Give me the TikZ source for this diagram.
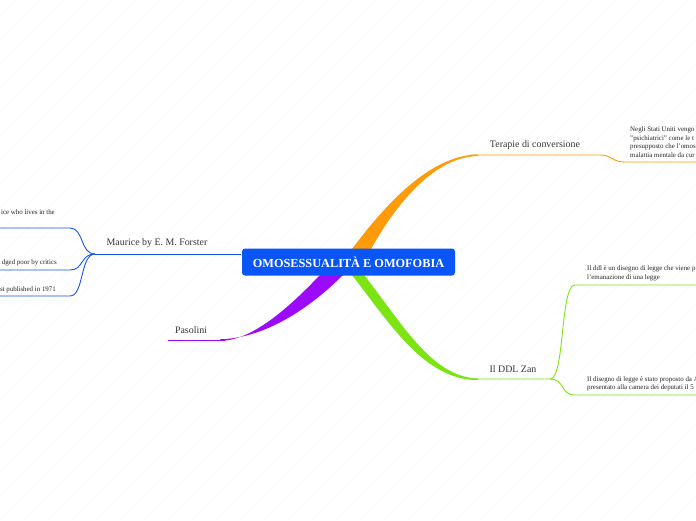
\documentclass[tikz,border=0pt]{standalone}
\usepackage{fontspec}
\setmainfont{Liberation Serif}
\definecolor{cOrange}{RGB}{255,155,10}
\definecolor{cGreen}{RGB}{125,228,20}
\definecolor{cPurple}{RGB}{155,10,250}
\definecolor{cBlue}{RGB}{20,85,240}
\definecolor{cRoot}{RGB}{10,85,245}
\definecolor{cText}{RGB}{55,55,55}
\begin{document}
\begin{tikzpicture}[x=1pt,y=-1pt,
  lbl/.style={font=\fontsize{9.9}{11}\selectfont, text=cText, inner sep=0pt},
  leaf/.style={font=\fontsize{6.9}{8.6}\selectfont, text=black!85, inner sep=0pt, align=left},
  conn/.style={line width=0.9pt}]
\useasboundingbox (0,0) rectangle (696,520);
\clip (0,0) rectangle (696,520);
\fill[white] (0,0) rectangle (696,520);
\foreach \i in {-44,...,58} \draw[black!4, line width=0.3pt] (\i*12,520) -- ++(520,-520);

% named points
\coordinate (oStart) at (470,155);
\coordinate (oEnd) at (600,155);
\coordinate (oLeaf) at (625,162);
\coordinate (gStart) at (470,379);
\coordinate (gJoin) at (550,379);
\coordinate (gLeafA) at (575,285);
\coordinate (gLeafB) at (575,395);
\coordinate (bStart) at (241,254);
\coordinate (bJoin) at (95,254);
\coordinate (bLeafA) at (70,228);
\coordinate (bLeafB) at (70,270);
\coordinate (bLeafC) at (70,296);
\coordinate (pStart) at (225,340);
\coordinate (pEnd) at (168,340);

% thick tapered branches
\fill[cOrange] (352,249) .. controls (385,205) and (430,155) .. (478,154.5)
  -- (478,156) .. controls (432,157) and (394,208) .. (371,249) -- cycle;
\fill[cGreen] (352,275) .. controls (390,324) and (425,380.5) .. (478,380)
  -- (478,378.5) .. controls (431,377.5) and (400,320) .. (364,275) -- cycle;
\fill[cPurple] (320,275) .. controls (296,300) and (255,341) .. (220,340.8)
  -- (220,339.3) .. controls (270,338) and (316,302) .. (343,275) -- cycle;

% orange
\node[lbl, anchor=base] (ter) at (535,147) {Terapie di conversione};
\draw[cOrange, conn] (oStart) -- (oEnd) .. controls (612,155) and (612,162) .. (oLeaf) -- (700,162);
\node[leaf, anchor=north west] (terLeaf) at (630,126.5) {Negli Stati Uniti vengo\\"psichiatrici" come le t\\presupposto che l'omose\\malattia mentale da cur};

% green
\node[lbl, anchor=base] (ddl) at (513,372) {Il DDL Zan};
\draw[cGreen, conn] (gStart) -- (gJoin) .. controls (565,379) and (560,285) .. (gLeafA) -- (700,285);
\draw[cGreen, conn] (gJoin) .. controls (565,379) and (560,395) .. (gLeafB) -- (700,395);
\node[leaf, anchor=north west] (ddlA) at (587,265.5) {Il ddl è un disegno di legge che viene p\\l'emanazione di una legge};
\node[leaf, anchor=north west] (ddlB) at (587,376) {Il disegno di legge è stato proposto da A\\presentato alla camera dei deputati il 5};

% blue
\node[lbl, anchor=base] (mau) at (157,245) {Maurice by E. M. Forster};
\draw[cBlue, conn] (bStart) -- (bJoin);
\draw[cBlue, conn] (bJoin) .. controls (80,254) and (84,228) .. (bLeafA) -- (-5,228);
\draw[cBlue, conn] (bJoin) .. controls (80,254) and (84,270) .. (bLeafB) -- (-5,270);
\draw[cBlue, conn] (bJoin) .. controls (80,254) and (84,296) .. (bLeafC) -- (-5,296);
\node[leaf, anchor=base east] (mauA) at (55,214) {ice who lives in the};
\node[leaf, anchor=base east] (mauB) at (57,264) {dged poor by critics};
\node[leaf, anchor=base east] (mauC) at (56,291) {st published in 1971};

% purple
\node[lbl, anchor=base] (pas) at (191,333) {Pasolini};
\draw[cPurple, conn] (pStart) -- (pEnd);

% root
\node[fill=cRoot, rounded corners=3pt, minimum width=213pt, minimum height=27pt,
  text=white, font=\bfseries\fontsize{12.3}{14}\selectfont, inner sep=0pt] (root) at (348.5,262) {OMOSESSUALITÀ E OMOFOBIA};
\end{tikzpicture}
\end{document}
